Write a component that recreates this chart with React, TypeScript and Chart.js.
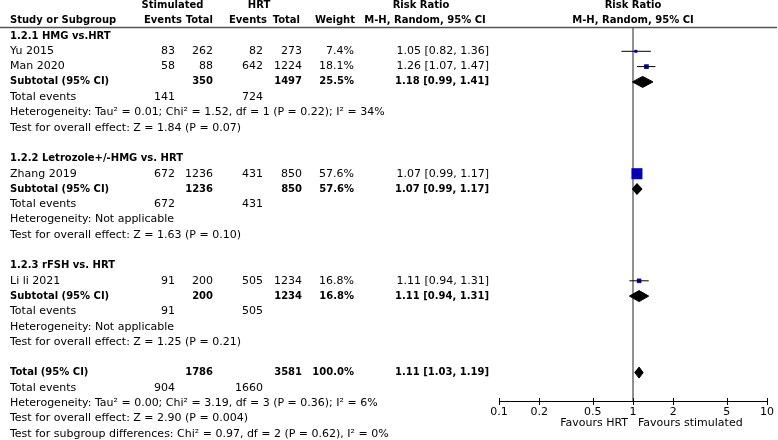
import React, { useEffect, useRef } from "react";
import { Chart, registerables } from "chart.js";
Chart.register(...registerables);

// ---------- DATA ----------
const groupTitles = ["1.2.1 HMG vs.HRT", "1.2.2 Letrozole+/-HMG vs. HRT", "1.2.3 rFSH vs. HRT"];
const studyNames = ["Yu 2015", "Man 2020", "Zhang 2019", "Li li 2021"];
const studyGroup = [0, 0, 1, 2];
const stimEvents = [83, 58, 672, 91];
const stimTotal = [262, 88, 1236, 200];
const hrtEvents = [82, 642, 431, 505];
const hrtTotal = [273, 1224, 850, 1234];
const studyWeight = [7.4, 18.1, 57.6, 16.8];
const studyRR = [1.05, 1.26, 1.07, 1.11];
const studyLo = [0.82, 1.07, 0.99, 0.94];
const studyHi = [1.36, 1.47, 1.17, 1.31];

const subStimTotal = [350, 1236, 200];
const subHrtTotal = [1497, 850, 1234];
const subWeight = [25.5, 57.6, 16.8];
const subRR = [1.18, 1.07, 1.11];
const subLo = [0.99, 0.99, 0.94];
const subHi = [1.41, 1.17, 1.31];
const subStimEvents = [141, 672, 91];
const subHrtEvents = [724, 431, 505];
const subHeterogeneity = [
  "Heterogeneity: Tau² = 0.01; Chi² = 1.52, df = 1 (P = 0.22); I² = 34%",
  "Heterogeneity: Not applicable",
  "Heterogeneity: Not applicable",
];
const subOverallTest = [
  "Test for overall effect: Z = 1.84 (P = 0.07)",
  "Test for overall effect: Z = 1.63 (P = 0.10)",
  "Test for overall effect: Z = 1.25 (P = 0.21)",
];

const totalStimTotal = 1786;
const totalHrtTotal = 3581;
const totalWeight = 100.0;
const totalRR = [1.11, 1.03, 1.19];
const totalStimEvents = 904;
const totalHrtEvents = 1660;
const totalNotes = [
  "Heterogeneity: Tau² = 0.00; Chi² = 3.19, df = 3 (P = 0.36); I² = 6%",
  "Test for overall effect: Z = 2.90 (P = 0.004)",
  "Test for subgroup differences: Chi² = 0.97, df = 2 (P = 0.62), I² = 0%",
];

const axisTicks = [0.1, 0.2, 0.5, 1, 2, 5, 10];
const favoursLabels = ["Favours HRT", "Favours stimulated"];
const headerTop = ["Stimulated", "HRT", "Risk Ratio", "Risk Ratio"];
const headerBottom = ["Study or Subgroup", "Events", "Total", "Events", "Total", "Weight", "M-H, Random, 95% CI", "M-H, Random, 95% CI"];

// ---------- LAYOUT ----------
const W = 778;
const H = 440;
const ROW_PX = 15.3;
const FIRST_ROW_PX = 36;
const Y_MIN = -FIRST_ROW_PX / ROW_PX;
const Y_MAX = Y_MIN + H / ROW_PX;
const pxToRow = (px: number) => Y_MIN + px / ROW_PX;

const FONT = '"DejaVu Sans", Verdana, sans-serif';
const FS_NORMAL = 11;
const FS_BOLD = 10;

const COL = { label: 10, sEv: 175, sTot: 213, hEv: 263, hTot: 302, wt: 354, rr: 489 };

type Cell = { text: string; x: number; align: CanvasTextAlign; bold?: boolean };
type Row = { row: number; cells: Cell[] };

const fmtRR = (a: number, b: number, c: number) => `${a.toFixed(2)} [${b.toFixed(2)}, ${c.toFixed(2)}]`;

function buildLayout() {
  const rows: Row[] = [];
  const studyRows: number[] = [];
  const subRows: number[] = [];
  let r = 0;
  groupTitles.forEach((title, g) => {
    rows.push({ row: r++, cells: [{ text: title, x: COL.label, align: "left", bold: true }] });
    studyNames.forEach((name, i) => {
      if (studyGroup[i] !== g) return;
      studyRows[i] = r;
      rows.push({
        row: r++,
        cells: [
          { text: name, x: COL.label, align: "left" },
          { text: String(stimEvents[i]), x: COL.sEv, align: "right" },
          { text: String(stimTotal[i]), x: COL.sTot, align: "right" },
          { text: String(hrtEvents[i]), x: COL.hEv, align: "right" },
          { text: String(hrtTotal[i]), x: COL.hTot, align: "right" },
          { text: studyWeight[i].toFixed(1) + "%", x: COL.wt, align: "right" },
          { text: fmtRR(studyRR[i], studyLo[i], studyHi[i]), x: COL.rr, align: "right" },
        ],
      });
    });
    subRows[g] = r;
    rows.push({
      row: r++,
      cells: [
        { text: "Subtotal (95% CI)", x: COL.label, align: "left", bold: true },
        { text: String(subStimTotal[g]), x: COL.sTot, align: "right", bold: true },
        { text: String(subHrtTotal[g]), x: COL.hTot, align: "right", bold: true },
        { text: subWeight[g].toFixed(1) + "%", x: COL.wt, align: "right", bold: true },
        { text: fmtRR(subRR[g], subLo[g], subHi[g]), x: COL.rr, align: "right", bold: true },
      ],
    });
    rows.push({
      row: r++,
      cells: [
        { text: "Total events", x: COL.label, align: "left" },
        { text: String(subStimEvents[g]), x: COL.sEv, align: "right" },
        { text: String(subHrtEvents[g]), x: COL.hEv, align: "right" },
      ],
    });
    rows.push({ row: r++, cells: [{ text: subHeterogeneity[g], x: COL.label, align: "left" }] });
    rows.push({ row: r++, cells: [{ text: subOverallTest[g], x: COL.label, align: "left" }] });
    r++;
  });
  const totalRow = r;
  rows.push({
    row: r++,
    cells: [
      { text: "Total (95% CI)", x: COL.label, align: "left", bold: true },
      { text: String(totalStimTotal), x: COL.sTot, align: "right", bold: true },
      { text: String(totalHrtTotal), x: COL.hTot, align: "right", bold: true },
      { text: totalWeight.toFixed(1) + "%", x: COL.wt, align: "right", bold: true },
      { text: fmtRR(totalRR[0], totalRR[1], totalRR[2]), x: COL.rr, align: "right", bold: true },
    ],
  });
  rows.push({
    row: r++,
    cells: [
      { text: "Total events", x: COL.label, align: "left" },
      { text: String(totalStimEvents), x: COL.sEv, align: "right" },
      { text: String(totalHrtEvents), x: COL.hEv, align: "right" },
    ],
  });
  totalNotes.forEach((t) => rows.push({ row: r++, cells: [{ text: t, x: COL.label, align: "left" }] }));
  return { rows, studyRows, subRows, totalRow };
}

const DIAMOND_HALF = 5.5 / ROW_PX;
const diamond = (lo: number, est: number, hi: number, row: number) => [
  { x: lo, y: row },
  { x: est, y: row - DIAMOND_HALF },
  { x: hi, y: row },
  { x: est, y: row + DIAMOND_HALF },
  { x: lo, y: row },
];

export default function App() {
  const ref = useRef<HTMLCanvasElement | null>(null);
  useEffect(() => {
    const canvas = ref.current;
    if (!canvas) return;
    const { rows, studyRows, subRows, totalRow } = buildLayout();

    const datasets: any[] = [];
    studyNames.forEach((_, i) => {
      datasets.push({
        type: "scatter",
        data: [
          { x: studyLo[i], y: studyRows[i] },
          { x: studyHi[i], y: studyRows[i] },
        ],
        showLine: true,
        borderColor: "#000",
        borderWidth: 1,
        pointRadius: 0,
        fill: false,
      });
    });
    datasets.push({
      type: "scatter",
      data: studyNames.map((_, i) => ({ x: studyRR[i], y: studyRows[i] })),
      pointStyle: "rect",
      pointRadius: studyWeight.map((w) => (1.8 + 0.16 * w) / Math.SQRT2),
      backgroundColor: "#0000C8",
      borderColor: "#0000C8",
      borderWidth: 0,
      showLine: false,
    });
    const diamonds = subRR.map((v, g) => diamond(subLo[g], v, subHi[g], subRows[g]));
    diamonds.push(diamond(totalRR[1], totalRR[0], totalRR[2], totalRow));
    diamonds.forEach((d) => {
      datasets.push({
        type: "line",
        data: d,
        showLine: true,
        borderColor: "#000",
        backgroundColor: "#000",
        borderWidth: 1,
        pointRadius: 0,
        fill: "shape",
        tension: 0,
      });
    });

    const AXIS_Y = 401.5;
    const HEADER_LINE_Y = 27.5;

    const textPlugin = {
      id: "forestText",
      beforeDatasetsDraw(chart: any) {
        const { ctx, scales } = chart;
        const x1 = scales.x.getPixelForValue(1);
        ctx.save();
        ctx.strokeStyle = "#555";
        ctx.lineWidth = 1.3;
        ctx.beginPath();
        ctx.moveTo(x1, scales.y.getPixelForValue(pxToRow(HEADER_LINE_Y)));
        ctx.lineTo(x1, scales.y.getPixelForValue(pxToRow(AXIS_Y)));
        ctx.stroke();
        ctx.restore();
      },
      afterDraw(chart: any) {
        const { ctx, scales } = chart;
        const xs = scales.x;
        const ys = scales.y;
        const x1 = xs.getPixelForValue(1);
        ctx.save();
        ctx.fillStyle = "#000";
        ctx.textBaseline = "middle";
        const put = (t: string, x: number, y: number, align: CanvasTextAlign, bold?: boolean) => {
          ctx.font = bold ? `bold ${FS_BOLD}px ${FONT}` : `${FS_NORMAL}px ${FONT}`;
          ctx.textAlign = align;
          ctx.fillText(t, x, y);
        };
        // headers
        const yh1 = ys.getPixelForValue(-2);
        const yh2 = ys.getPixelForValue(-1);
        put(headerTop[0], 172.5, yh1, "center", true);
        put(headerTop[1], 259, yh1, "center", true);
        put(headerTop[2], 421, yh1, "center", true);
        put(headerTop[3], x1, yh1, "center", true);
        put(headerBottom[0], COL.label, yh2, "left", true);
        put(headerBottom[1], 182, yh2, "right", true);
        put(headerBottom[2], 213, yh2, "right", true);
        put(headerBottom[3], 267, yh2, "right", true);
        put(headerBottom[4], 300, yh2, "right", true);
        put(headerBottom[5], 355, yh2, "right", true);
        put(headerBottom[6], 425, yh2, "center", true);
        put(headerBottom[7], x1, yh2, "center", true);
        // header line
        ctx.strokeStyle = "#555";
        ctx.lineWidth = 1.4;
        ctx.beginPath();
        const hy = ys.getPixelForValue(pxToRow(HEADER_LINE_Y));
        ctx.moveTo(0, hy);
        ctx.lineTo(777, hy);
        ctx.stroke();
        // rows
        rows.forEach((row) => {
          const y = ys.getPixelForValue(row.row);
          row.cells.forEach((c) => put(c.text, c.x, y, c.align, c.bold));
        });
        // axis
        const ay = ys.getPixelForValue(pxToRow(AXIS_Y));
        ctx.strokeStyle = "#000";
        ctx.lineWidth = 1;
        ctx.beginPath();
        ctx.moveTo(xs.getPixelForValue(axisTicks[0]), ay);
        ctx.lineTo(xs.getPixelForValue(axisTicks[axisTicks.length - 1]), ay);
        axisTicks.forEach((t) => {
          const tx = Math.round(xs.getPixelForValue(t)) + 0.5;
          ctx.moveTo(tx, ay - 3.5);
          ctx.lineTo(tx, ay + 3.5);
        });
        ctx.stroke();
        axisTicks.forEach((t) => put(String(t), xs.getPixelForValue(t), ay + 11, "center"));
        put(favoursLabels[0], x1 - 5, ay + 22, "right");
        put(favoursLabels[1], x1 + 5, ay + 22, "left");
        ctx.restore();
      },
    };

    const chart = new Chart(canvas, {
      type: "scatter",
      data: { datasets },
      options: {
        animation: false,
        responsive: false,
        maintainAspectRatio: false,
        events: [],
        layout: { autoPadding: false, padding: { left: 499, right: 11, top: 0, bottom: 0 } },
        plugins: { legend: { display: false }, tooltip: { enabled: false } },
        scales: {
          x: { type: "logarithmic", min: 0.1, max: 10, display: false, bounds: "data" },
          y: { type: "linear", min: Y_MIN, max: Y_MAX, reverse: true, display: false, bounds: "data" },
        },
      },
      plugins: [textPlugin],
    });
    return () => chart.destroy();
  }, []);

  return (
    <div style={{ position: "fixed", left: 0, top: 0, width: W, height: H, background: "#fff" }}>
      <canvas ref={ref} width={W} height={H} style={{ width: W, height: H, display: "block" }} />
    </div>
  );
}
